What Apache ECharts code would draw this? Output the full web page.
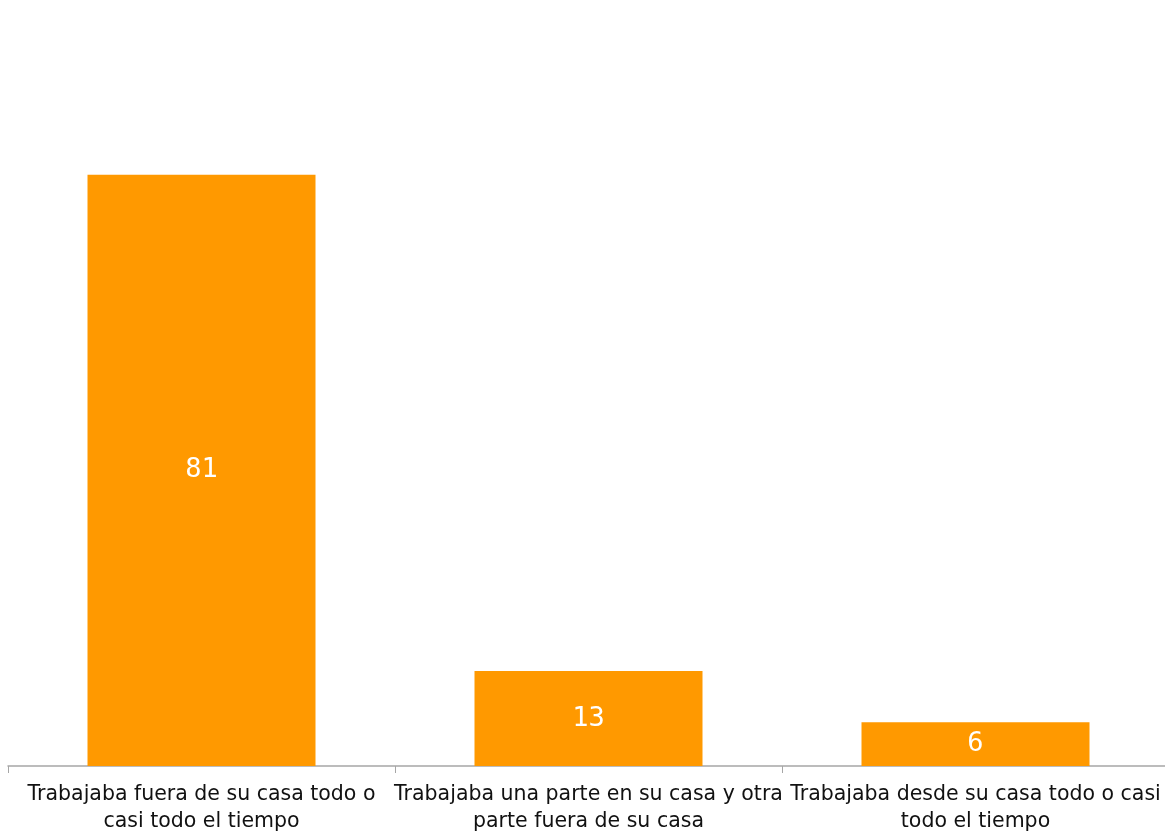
<!DOCTYPE html>
<html>
<head>
<meta charset="utf-8">
<script src="https://cdn.jsdelivr.net/npm/echarts@6/dist/echarts.min.js"></script>
<style>html,body{margin:0;padding:0;background:#fff;overflow:hidden;}#c{width:1169px;height:837px;}</style>
</head>
<body>
<div id="c"></div>
<script>
var categories = [
  "Trabajaba fuera de su casa todo o\ncasi todo el tiempo",
  "Trabajaba una parte en su casa y otra\nparte fuera de su casa",
  "Trabajaba desde su casa todo o casi\ntodo el tiempo"
];
var values = [81, 13, 6];

var chart = echarts.init(document.getElementById('c'));
chart.setOption({
  animation: false,
  grid: { left: 8, right: 0, top: 36, bottom: 71, containLabel: false },
  xAxis: {
    type: 'category',
    data: categories,
    axisLine: { lineStyle: { color: '#a6a6a6', width: 1.5 } },
    axisTick: { show: true, length: 7, lineStyle: { color: '#a6a6a6' } },
    axisLabel: {
      color: '#111', fontSize: 20.5, fontFamily: 'DejaVu Sans, sans-serif',
      lineHeight: 27, margin: 15, interval: 0
    }
  },
  yAxis: {
    type: 'value', min: 0, max: 100, show: false,
    splitLine: { show: false }
  },
  series: [{
    type: 'bar',
    data: values,
    barWidth: 228,
    itemStyle: { color: '#ff9900' },
    label: {
      show: true, position: 'inside', color: '#fff',
      fontSize: 27, fontFamily: 'DejaVu Sans Mono, monospace'
    }
  }]
});
</script>
</body>
</html>
